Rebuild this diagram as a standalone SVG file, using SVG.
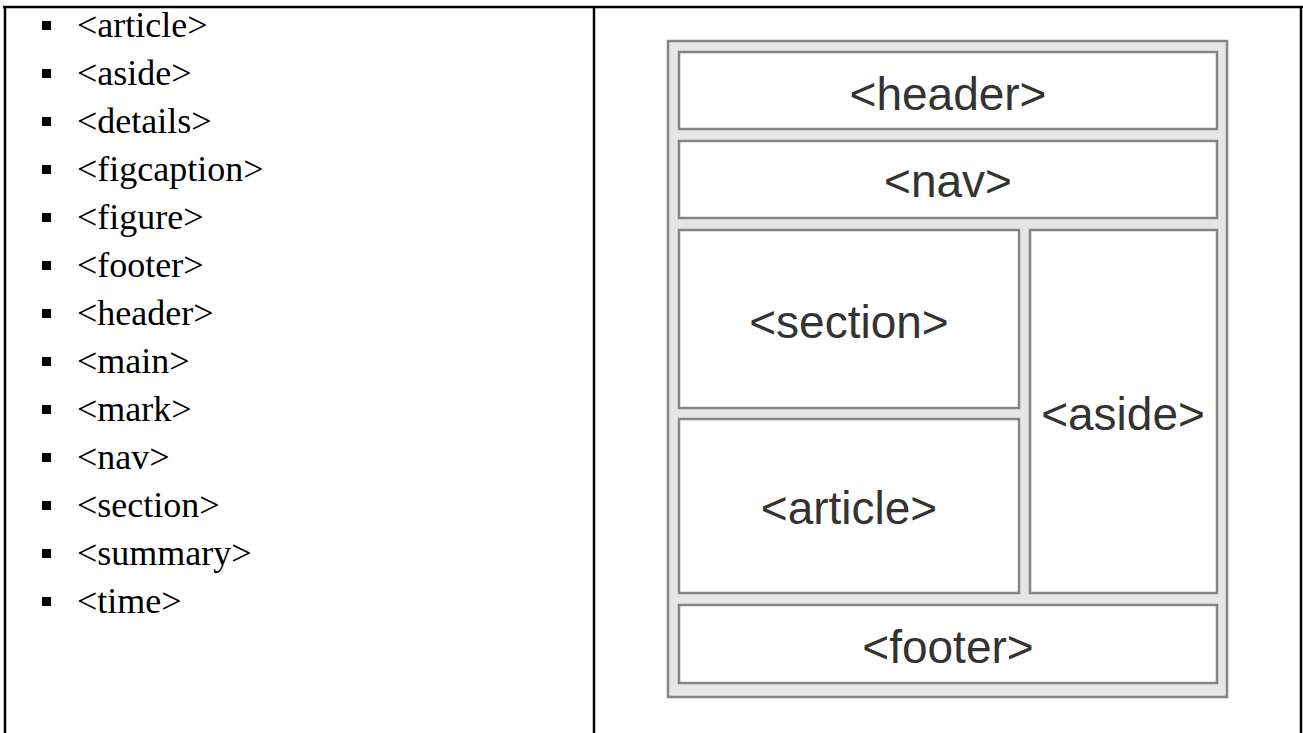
<svg xmlns="http://www.w3.org/2000/svg" width="1303" height="733" viewBox="0 0 1303 733">
<style>
.li{font-family:"Liberation Serif","Times New Roman",serif;font-size:36px;fill:#000}
.bul{fill:#000}
.box{fill:#fff;stroke:#858585;stroke-width:2.5}
.lbl{font-family:"Liberation Sans",Arial,sans-serif;font-size:46px;fill:#333;text-anchor:middle}
.tb{stroke:#000;stroke-width:2.5;fill:none}
</style>
<rect width="1303" height="733" fill="#fff"/>
<g id="table">
<line class="tb" x1="3" y1="7" x2="1303" y2="7"/>
<line class="tb" x1="5" y1="6" x2="5" y2="733"/>
<line class="tb" x1="594" y1="6" x2="594" y2="733"/>
<line class="tb" x1="1301" y1="6" x2="1301" y2="733"/>
</g>
<g id="list">
<rect class="bul" x="42" y="21" width="9" height="9"/><text class="li" x="77" y="37">&lt;article&gt;</text>
<rect class="bul" x="42" y="69" width="9" height="9"/><text class="li" x="77" y="85">&lt;aside&gt;</text>
<rect class="bul" x="42" y="117" width="9" height="9"/><text class="li" x="77" y="133">&lt;details&gt;</text>
<rect class="bul" x="42" y="165" width="9" height="9"/><text class="li" x="77" y="181">&lt;figcaption&gt;</text>
<rect class="bul" x="42" y="213" width="9" height="9"/><text class="li" x="77" y="229">&lt;figure&gt;</text>
<rect class="bul" x="42" y="261" width="9" height="9"/><text class="li" x="77" y="277">&lt;footer&gt;</text>
<rect class="bul" x="42" y="309" width="9" height="9"/><text class="li" x="77" y="325">&lt;header&gt;</text>
<rect class="bul" x="42" y="357" width="9" height="9"/><text class="li" x="77" y="373">&lt;main&gt;</text>
<rect class="bul" x="42" y="405" width="9" height="9"/><text class="li" x="77" y="421">&lt;mark&gt;</text>
<rect class="bul" x="42" y="453" width="9" height="9"/><text class="li" x="77" y="469">&lt;nav&gt;</text>
<rect class="bul" x="42" y="501" width="9" height="9"/><text class="li" x="77" y="517">&lt;section&gt;</text>
<rect class="bul" x="42" y="549" width="9" height="9"/><text class="li" x="77" y="565">&lt;summary&gt;</text>
<rect class="bul" x="42" y="597" width="9" height="9"/><text class="li" x="77" y="613">&lt;time&gt;</text>
</g>
<g id="layout">
<rect x="668" y="41" width="559" height="656" fill="#e6e6e6" stroke="#858585" stroke-width="2.5"/>
</g>
<g id="header"><rect class="box" x="679" y="52" width="538" height="77"/><text class="lbl" x="948" y="110">&lt;header&gt;</text></g>
<g id="nav"><rect class="box" x="679" y="141" width="538" height="77"/><text class="lbl" x="948" y="197">&lt;nav&gt;</text></g>
<g id="section"><rect class="box" x="679" y="230" width="340" height="178"/><text class="lbl" x="849" y="338">&lt;section&gt;</text></g>
<g id="article"><rect class="box" x="679" y="419" width="340" height="174"/><text class="lbl" x="849" y="524">&lt;article&gt;</text></g>
<g id="aside"><rect class="box" x="1030" y="230" width="187" height="363"/><text class="lbl" x="1123" y="430">&lt;aside&gt;</text></g>
<g id="footer"><rect class="box" x="679" y="605" width="538" height="78"/><text class="lbl" x="948" y="663">&lt;footer&gt;</text></g>
</svg>
